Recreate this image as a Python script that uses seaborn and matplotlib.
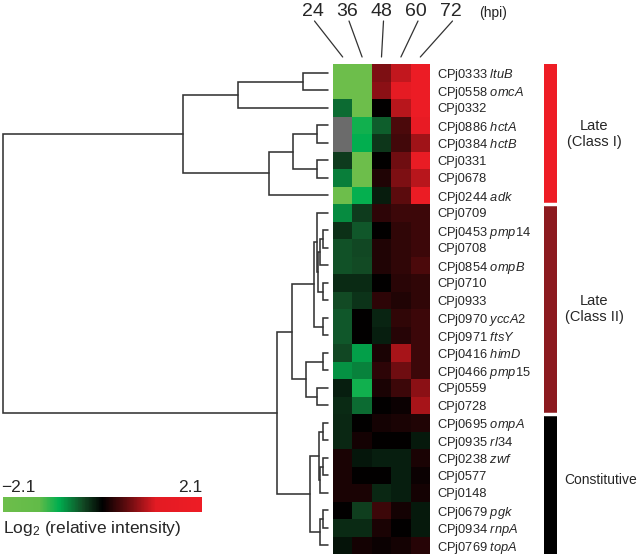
import matplotlib
matplotlib.use("Agg")
import matplotlib.pyplot as plt
import numpy as np
import pandas as pd
import seaborn as sns
from matplotlib.colors import LinearSegmentedColormap, ListedColormap

W, H = 640, 557

# ---- data -----------------------------------------------------------------
HOURS = ["24", "36", "48", "60", "72"]

LOCUS = ["CPj0333", "CPj0558", "CPj0332", "CPj0886", "CPj0384", "CPj0331",
         "CPj0678", "CPj0244", "CPj0709", "CPj0453", "CPj0708", "CPj0854",
         "CPj0710", "CPj0933", "CPj0970", "CPj0971", "CPj0416", "CPj0466",
         "CPj0559", "CPj0728", "CPj0695", "CPj0935", "CPj0238", "CPj0577",
         "CPj0148", "CPj0679", "CPj0934", "CPj0769"]
GENE = ["ltuB", "omcA", "", "hctA", "hctB", "", "", "adk", "", "pmp14", "",
        "ompB", "", "", "yccA2", "ftsY", "himD", "pmp15", "", "", "ompA",
        "rl34", "zwf", "", "", "pgk", "rnpA", "topA"]

# log2 relative intensity per time point (NaN = missing)
H24 = [-2.1, -2.1, -0.59, np.nan, np.nan, -0.34, -0.68, -2.1,
       -0.75, -0.27, -0.45, -0.45, -0.24, -0.42, -0.49, -0.49, -0.41, -0.78, -0.18, -0.24,
       -0.22, -0.22, 0.14, 0.14, 0.14, 0.0, -0.24, -0.1]
H36 = [-2.1, -2.1, -2.1, -1.0, -0.92, -2.1, -2.1, -0.95,
       -0.34, -0.48, -0.41, -0.42, -0.24, -0.28, 0.0, 0.0, -0.85, -0.7, -1.0, -0.58,
       0.0, 0.11, -0.13, 0.0, 0.14, -0.36, -0.24, 0.1]
H48 = [0.64, 0.71, 0.0, -0.52, -0.3, 0.0, 0.17, -0.15,
       0.23, 0.0, 0.17, 0.17, 0.0, 0.23, -0.2, -0.18, 0.14, 0.23, 0.14, 0.0,
       0.11, 0.0, -0.18, 0.0, -0.22, 0.32, 0.14, 0.05]
H60 = [0.97, 1.3, 0.93, 0.4, 0.35, 0.58, 0.64, 0.48,
       0.32, 0.25, 0.25, 0.25, 0.22, 0.17, 0.25, 0.2, 0.85, 0.58, 0.32, 0.05,
       0.14, 0.0, -0.18, -0.18, -0.18, 0.11, 0.0, 0.1]
H72 = [1.9, 1.9, 1.9, 1.6, 0.82, 1.7, 0.92, 1.8,
       0.32, 0.32, 0.32, 0.41, 0.25, 0.25, 0.32, 0.32, 0.32, 0.32, 0.71, 0.85,
       0.17, -0.14, 0.14, 0.05, 0.11, -0.14, -0.14, 0.2]

CLASS_NAMES = ["Late\n(Class I)", "Late\n(Class II)", "Constitutive"]
CLASS_SIZES = [8, 12, 8]
CLASS_COLORS = ["#ee1d25", "#8c1a1f", "#000000"]

# hierarchical clustering of the rows: (child a, child b, distance);
# ids < 28 are rows, id 28 + k is the k-th merge
MERGES = [
    (0, 1, 25), (28, 2, 90), (3, 4, 11), (5, 6, 11), (30, 31, 35),
    (32, 7, 59), (29, 33, 145),
    (9, 10, 5), (35, 11, 8), (12, 13, 5), (36, 37, 10), (8, 38, 11),
    (14, 15, 5), (39, 40, 14), (16, 17, 5), (18, 19, 11), (42, 43, 22),
    (41, 44, 36),
    (20, 21, 5), (22, 23, 5), (47, 24, 8), (46, 48, 9), (25, 26, 5),
    (50, 27, 8), (49, 51, 18), (45, 52, 51),
    (34, 53, 325),
]

# ---- layout (pixels) -------------------------------------------------------
HM_X0, HM_X1, HM_Y0, HM_Y1 = 333, 430, 64, 554
DEN_X0, DEN_X1 = 3, 328
BAR_X0, BAR_X1 = 544, 557


def px_rect(x0, y0, x1, y1):
    return [x0 / W, 1 - y1 / H, (x1 - x0) / W, (y1 - y0) / H]


def draw_dendrogram(ax, merges, n_leaves):
    pos = {i: (0.0, i + 0.5) for i in range(n_leaves)}
    for k, (a, b, h) in enumerate(merges):
        xa, ya = pos[a]
        xb, yb = pos[b]
        ax.plot([xa, h, h, xb], [ya, ya, yb, yb], color="#333333",
                lw=1.15, clip_on=False, solid_joinstyle="miter")
        pos[n_leaves + k] = (h, (ya + yb) / 2)
    ax.set_xlim(max(m[2] for m in merges), 0)
    ax.set_ylim(n_leaves, 0)
    ax.axis("off")


def main():
    sns.set_style("white")
    plt.rcParams["font.family"] = ["Liberation Sans", "DejaVu Sans"]
    plt.rcParams["mathtext.fontset"] = "custom"
    plt.rcParams["mathtext.rm"] = "Liberation Sans"
    plt.rcParams["mathtext.it"] = "Liberation Sans:italic"

    labels = [f"{l} $\\mathit{{{g}}}$" if g else l for l, g in zip(LOCUS, GENE)]
    df = pd.DataFrame({"24": H24, "36": H36, "48": H48, "60": H60, "72": H72},
                      index=labels)
    n = len(df)

    cmap = LinearSegmentedColormap.from_list("gr", [
        (0.00, "#6dbe4b"), (0.18, "#62bb48"), (0.28, "#00ae4f"),
        (0.40, "#124a24"), (0.50, "#000000"), (0.62, "#5e0b0e"),
        (0.77, "#e31b23"), (1.00, "#ee1c25")])

    fig = plt.figure(figsize=(W / 100, H / 100), dpi=100)

    ax_txt = fig.add_axes([0, 0, 1, 1])
    ax_txt.set_xlim(0, W)
    ax_txt.set_ylim(H, 0)
    ax_txt.axis("off")

    ax_hm = fig.add_axes(px_rect(HM_X0, HM_Y0, HM_X1, HM_Y1))
    ax_cb = fig.add_axes(px_rect(3, 497, 202, 512))
    ax_den = fig.add_axes(px_rect(DEN_X0, HM_Y0, DEN_X1, HM_Y1))
    ax_bar = fig.add_axes(px_rect(BAR_X0, HM_Y0, BAR_X1, HM_Y1))

    sns.heatmap(df, cmap=cmap, vmin=-2.1, vmax=2.1, ax=ax_hm,
                cbar_ax=ax_cb, cbar_kws={"orientation": "horizontal"},
                xticklabels=False, yticklabels=True)
    ax_hm.set_facecolor("#6b6b6b")
    ax_hm.set_ylabel("")
    ax_hm.yaxis.tick_right()
    ax_hm.tick_params(axis="y", length=0, pad=5, labelsize=9.3, rotation=0)

    cb = ax_hm.collections[0].colorbar
    cb.outline.set_visible(False)
    cb.set_ticks([])

    draw_dendrogram(ax_den, MERGES, n)

    # class side bar
    codes = np.repeat(np.arange(len(CLASS_SIZES)), CLASS_SIZES).reshape(-1, 1)
    sns.heatmap(codes, cmap=ListedColormap(CLASS_COLORS), cbar=False,
                ax=ax_bar, xticklabels=False, yticklabels=False)
    for b in np.cumsum(CLASS_SIZES)[:-1]:
        ax_bar.axhline(b, color="white", lw=2.5)

    row_h = (HM_Y1 - HM_Y0) / n
    start = 0
    for name, size in zip(CLASS_NAMES, CLASS_SIZES):
        yc = HM_Y0 + (start + size / 2) * row_h
        if "\n" in name:
            ax_txt.text(594, yc, name, ha="center", va="center",
                        fontsize=10.5, linespacing=1.15)
        else:
            ax_txt.text(637, yc - 4, name, ha="right", va="center", fontsize=10)
        start += size

    # time point headers with connector lines
    col_w = (HM_X1 - HM_X0) / len(HOURS)
    mid = (HM_X0 + HM_X1) / 2
    for i, hr in enumerate(HOURS):
        cx = HM_X0 + (i + 0.5) * col_w
        lx = mid + (i - 2) * 34.5
        ax_txt.text(lx, 11, hr, ha="center", va="center", fontsize=14)
        ax_txt.plot([lx + 2, cx], [21, 57], color="#333333", lw=0.9)
    ax_txt.text(493, 13, "(hpi)", ha="center", va="center", fontsize=10)

    # colour key labels
    ax_txt.text(1, 487, "\u22122.1", ha="left", va="center", fontsize=12.5)
    ax_txt.text(202, 487, "2.1", ha="right", va="center", fontsize=12.5)
    ax_txt.text(3, 529, "Log$_2$ (relative intensity)", ha="left",
                va="center", fontsize=12.5)

    fig.savefig("out.png", dpi=100)
    plt.close(fig)


if __name__ == "__main__":
    main()
